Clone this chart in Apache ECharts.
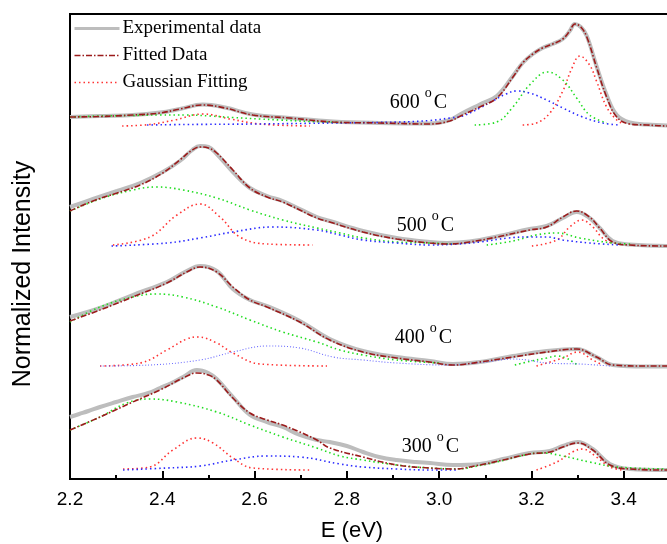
<!DOCTYPE html>
<html><head><meta charset="utf-8">
<script src="https://cdn.jsdelivr.net/npm/echarts@6/dist/echarts.min.js"></script>
<style>html,body{margin:0;padding:0;background:#fff}#c{width:667px;height:544px}</style>
</head><body><div id="c"></div>
<script>
// ---- data: [E (eV), normalized intensity + offset] ----
const fit600 = [[2.20,3.62],[2.265,3.625],[2.336,3.64],[2.395,3.66],[2.438,3.70],[2.488,3.74],[2.536,3.71],[2.596,3.64],[2.676,3.61],[2.77,3.57],[2.871,3.56],[2.98,3.55],[3.023,3.58],[3.051,3.64],[3.088,3.72],[3.125,3.81],[3.16,4.02],[3.181,4.16],[3.203,4.25],[3.224,4.31],[3.246,4.35],[3.268,4.40],[3.283,4.48],[3.294,4.55],[3.307,4.52],[3.32,4.42],[3.341,4.12],[3.363,3.82],[3.385,3.62],[3.413,3.55],[3.45,3.54],[3.50,3.53],[3.60,3.53]];
const exp600 = [[2.20,3.62],[2.265,3.63],[2.336,3.64],[2.395,3.665],[2.438,3.70],[2.488,3.745],[2.536,3.715],[2.596,3.645],[2.676,3.61],[2.77,3.575],[2.871,3.56],[2.98,3.555],[3.023,3.59],[3.051,3.66],[3.088,3.745],[3.125,3.83],[3.16,4.03],[3.181,4.16],[3.203,4.25],[3.224,4.31],[3.246,4.35],[3.268,4.40],[3.283,4.48],[3.294,4.55],[3.307,4.52],[3.32,4.43],[3.341,4.13],[3.363,3.84],[3.385,3.64],[3.413,3.565],[3.45,3.545],[3.50,3.535],[3.60,3.53]];
const green600a = [[2.20,3.62],[2.265,3.63],[2.33,3.635],[2.395,3.64],[2.453,3.64],[2.503,3.63],[2.553,3.615],[2.612,3.60],[2.655,3.59],[2.72,3.575],[2.79,3.565]];
const red600a = [[2.313,3.53],[2.373,3.545],[2.427,3.59],[2.488,3.65],[2.547,3.60],[2.612,3.55],[2.72,3.53]];
const blue600 = [[2.367,3.54],[2.45,3.545],[2.60,3.55],[2.77,3.56],[2.915,3.57],[2.98,3.585],[3.023,3.61],[3.051,3.63],[3.088,3.71],[3.116,3.78],[3.145,3.85],[3.168,3.88],[3.196,3.86],[3.233,3.79],[3.268,3.71],[3.311,3.62],[3.354,3.56],[3.391,3.54]];
const green600b = [[3.077,3.54],[3.125,3.57],[3.16,3.72],[3.196,3.94],[3.235,4.07],[3.268,3.99],[3.298,3.81],[3.326,3.64],[3.363,3.56]];
const red600b = [[3.181,3.54],[3.211,3.56],[3.24,3.66],[3.268,3.88],[3.287,4.10],[3.305,4.23],[3.326,4.14],[3.341,3.98],[3.363,3.72],[3.385,3.59],[3.40,3.55]];

const fit500 = [[2.20,2.68],[2.25,2.78],[2.302,2.86],[2.352,2.94],[2.401,3.06],[2.438,3.19],[2.465,3.29],[2.482,3.32],[2.50,3.31],[2.518,3.26],[2.553,3.09],[2.59,2.91],[2.627,2.82],[2.661,2.77],[2.698,2.69],[2.735,2.61],[2.763,2.57],[2.835,2.47],[2.908,2.40],[2.98,2.36],[3.017,2.35],[3.066,2.37],[3.125,2.42],[3.196,2.49],[3.233,2.52],[3.268,2.62],[3.298,2.68],[3.326,2.62],[3.348,2.51],[3.376,2.37],[3.413,2.34],[3.50,2.33],[3.60,2.33]];
const exp500 = [[2.20,2.72],[2.25,2.80],[2.302,2.88],[2.352,2.96],[2.401,3.07],[2.438,3.18],[2.465,3.29],[2.482,3.33],[2.50,3.32],[2.518,3.25],[2.553,3.07],[2.59,2.91],[2.627,2.83],[2.661,2.78],[2.698,2.70],[2.735,2.62],[2.763,2.58],[2.835,2.48],[2.908,2.41],[2.98,2.37],[3.017,2.36],[3.066,2.375],[3.125,2.425],[3.196,2.50],[3.233,2.53],[3.268,2.61],[3.298,2.67],[3.326,2.61],[3.348,2.51],[3.376,2.38],[3.413,2.345],[3.50,2.33],[3.60,2.33]];
const green500a = [[2.20,2.68],[2.265,2.80],[2.336,2.89],[2.388,2.92],[2.445,2.89],[2.518,2.81],[2.59,2.69],[2.661,2.59],[2.735,2.51],[2.785,2.46],[2.835,2.41],[2.908,2.37],[2.98,2.36],[3.03,2.35]];
const green500b = [[3.103,2.34],[3.16,2.38],[3.21,2.44],[3.255,2.46],[3.305,2.41],[3.376,2.36],[3.42,2.35]];
const red500a = [[2.293,2.34],[2.373,2.42],[2.432,2.64],[2.482,2.75],[2.525,2.62],[2.568,2.42],[2.627,2.35],[2.726,2.34]];
const red500b = [[3.201,2.33],[3.255,2.39],[3.283,2.52],[3.309,2.59],[3.333,2.52],[3.354,2.41],[3.376,2.35]];
const blue500 = [[2.29,2.33],[2.41,2.36],[2.482,2.41],[2.553,2.47],[2.64,2.52],[2.735,2.49],[2.785,2.44],[2.835,2.39],[2.908,2.36],[2.98,2.34],[3.04,2.35],[3.088,2.37],[3.15,2.41],[3.19,2.42],[3.233,2.42],[3.268,2.39],[3.326,2.36],[3.391,2.34]];

const fit400 = [[2.20,1.58],[2.265,1.69],[2.336,1.82],[2.41,1.96],[2.453,2.07],[2.482,2.12],[2.518,2.07],[2.553,1.92],[2.59,1.79],[2.627,1.72],[2.698,1.57],[2.763,1.39],[2.835,1.27],[2.908,1.21],[2.98,1.17],[3.03,1.14],[3.088,1.17],[3.16,1.22],[3.233,1.27],[3.298,1.30],[3.341,1.22],[3.376,1.14],[3.45,1.13],[3.60,1.13]];
const exp400 = [[2.20,1.62],[2.265,1.71],[2.336,1.84],[2.41,1.97],[2.453,2.08],[2.482,2.13],[2.518,2.08],[2.553,1.90],[2.59,1.79],[2.627,1.73],[2.698,1.58],[2.763,1.40],[2.835,1.28],[2.908,1.22],[2.98,1.18],[3.03,1.15],[3.088,1.17],[3.16,1.23],[3.233,1.28],[3.298,1.30],[3.341,1.22],[3.376,1.14],[3.45,1.125],[3.60,1.13]];
const green400a = [[2.20,1.57],[2.265,1.72],[2.336,1.82],[2.388,1.85],[2.445,1.82],[2.518,1.72],[2.59,1.59],[2.661,1.47],[2.735,1.37],[2.785,1.29],[2.835,1.24],[2.908,1.19],[3.0,1.16]];
const green400b = [[3.164,1.14],[3.20,1.18],[3.233,1.21],[3.255,1.23],[3.275,1.21],[3.29,1.17],[3.30,1.14]];
const red400a = [[2.265,1.13],[2.352,1.16],[2.41,1.29],[2.453,1.40],[2.477,1.42],[2.518,1.36],[2.553,1.26],[2.612,1.15],[2.757,1.13]];
const red400b = [[3.211,1.13],[3.268,1.21],[3.30,1.27],[3.333,1.19],[3.354,1.14]];
const blue400 = [[2.265,1.13],[2.373,1.14],[2.482,1.19],[2.553,1.27],[2.627,1.33],[2.698,1.31],[2.77,1.22],[2.835,1.19],[2.908,1.16],[3.017,1.14],[3.10,1.17],[3.16,1.20],[3.19,1.19],[3.233,1.16],[3.305,1.15],[3.37,1.13]];

const fit300 = [[2.20,0.49],[2.265,0.62],[2.336,0.77],[2.395,0.89],[2.445,1.01],[2.475,1.06],[2.50,1.04],[2.518,0.99],[2.553,0.81],[2.59,0.66],[2.627,0.59],[2.661,0.54],[2.698,0.47],[2.735,0.39],[2.763,0.31],[2.835,0.22],[2.908,0.14],[2.98,0.11],[3.03,0.10],[3.088,0.14],[3.138,0.19],[3.196,0.25],[3.24,0.27],[3.268,0.32],[3.30,0.36],[3.333,0.29],[3.37,0.14],[3.413,0.10],[3.50,0.09],[3.60,0.09]];
const exp300 = [[2.20,0.62],[2.22,0.65],[2.24,0.68],[2.265,0.72],[2.30,0.77],[2.336,0.82],[2.37,0.86],[2.395,0.91],[2.42,0.96],[2.445,1.02],[2.475,1.09],[2.50,1.06],[2.518,1.00],[2.553,0.82],[2.59,0.64],[2.627,0.57],[2.661,0.52],[2.698,0.44],[2.735,0.39],[2.763,0.37],[2.80,0.33],[2.835,0.27],[2.87,0.22],[2.908,0.19],[2.95,0.17],[2.98,0.16],[3.03,0.14],[3.088,0.15],[3.138,0.20],[3.196,0.26],[3.24,0.28],[3.268,0.33],[3.30,0.37],[3.333,0.30],[3.37,0.15],[3.413,0.10],[3.50,0.09],[3.60,0.09]];
const green300a = [[2.20,0.49],[2.265,0.62],[2.323,0.76],[2.373,0.80],[2.432,0.77],[2.518,0.67],[2.59,0.54],[2.661,0.42],[2.735,0.31],[2.785,0.23],[2.835,0.19],[2.908,0.14],[2.98,0.11],[3.05,0.10]];
const green300b = [[3.05,0.10],[3.125,0.17],[3.196,0.25],[3.224,0.26],[3.268,0.23],[3.326,0.17],[3.385,0.12],[3.493,0.10]];
const red300a = [[2.315,0.10],[2.373,0.12],[2.423,0.29],[2.475,0.41],[2.51,0.36],[2.553,0.21],[2.596,0.11],[2.72,0.09]];
const red300b = [[3.211,0.09],[3.255,0.17],[3.289,0.27],[3.311,0.30],[3.341,0.22],[3.37,0.12],[3.398,0.09]];
const blue300 = [[2.315,0.09],[2.41,0.11],[2.482,0.13],[2.553,0.19],[2.627,0.23],[2.698,0.22],[2.785,0.15],[2.835,0.12],[2.908,0.10],[2.98,0.09],[3.04,0.09]];

const legendNames = ['Experimental data', 'Fitted Data', 'Gaussian Fitting'];
const tempLabels = ['600', '500', '400', '300'];
const tempLabelE = [2.893, 2.908, 2.904, 2.919];
const tempLabelY = [3.76, 2.53, 1.41, 0.32];

// ---- styles ----
const C_EXP = '#bdbdbd', C_FIT = '#9b1b1b', C_R = '#ff3333', C_G = '#22dd22', C_B = '#2a2aff';
const DASHDOT = [6, 2, 1.5, 2];
const DOT = [1.5, 3];

function line(name, data, color, width, type, z, op) {
  return {
    type: 'line', name: name, data: data, symbol: 'none', showSymbol: false,
    smooth: 0.4, z: z, silent: true, animation: false, clip: true,
    lineStyle: { color: color, width: width, type: type, opacity: op == null ? 1 : op },
    itemStyle: { color: color }
  };
}

const series = [];
[exp600, exp500, exp400, exp300].forEach(d => series.push(line(legendNames[0], d, C_EXP, 4, 'solid', 1)));
[red600a, red600b, red500a, red500b, red400a, red400b, red300a, red300b].forEach(d => series.push(line(legendNames[2], d, C_R, 1.6, DOT, 3)));
[green600a, green600b, green500a, green500b, green400a, green400b, green300a, green300b].forEach(d => series.push(line('Gaussian (green)', d, C_G, 1.6, DOT, 3)));
[blue600, blue500, blue300].forEach(d => series.push(line('Gaussian (blue)', d, C_B, 1.6, DOT, 3)));
series.push(line('Gaussian (blue)', blue400, '#5a5aff', 1.1, [1, 2], 3, 0.9));
[fit600, fit500, fit400, fit300].forEach(d => series.push(line(legendNames[1], d, C_FIT, 1.6, DASHDOT, 4)));

const hidden = { color: 'transparent', opacity: 0, borderWidth: 0 };
const chart = echarts.init(document.getElementById('c'), null, { renderer: 'canvas' });
chart.setOption({
  animation: false,
  backgroundColor: '#ffffff',
  grid: { left: 70, top: 14, right: -49, bottom: 65, outerBoundsMode: 'none', containLabel: false,
    show: true, borderColor: '#000', borderWidth: 2, backgroundColor: 'transparent' },
  xAxis: {
    type: 'value', min: 2.2, max: 3.6, interval: 0.2,
    axisLine: { show: true, onZero: false, lineStyle: { color: '#000', width: 2 } },
    axisTick: { show: true, inside: true, length: 8, lineStyle: { color: '#000', width: 2 } },
    minorTick: { show: true, splitNumber: 2, length: 4, lineStyle: { color: '#000', width: 2 } },
    axisLabel: { color: '#000', fontSize: 19, fontFamily: '"Liberation Sans", Arial, sans-serif', margin: 11,
      formatter: v => v.toFixed(1) },
    splitLine: { show: false }
  },
  yAxis: {
    type: 'value', min: 0, max: 4.65,
    axisLine: { show: true, lineStyle: { color: '#000', width: 2 } },
    axisTick: { show: false }, axisLabel: { show: false }, splitLine: { show: false }
  },
  legend: {
    orient: 'vertical', left: 73, top: 19, padding: 0, itemGap: 8,
    itemWidth: 45, itemHeight: 14,
    textStyle: { color: '#000', fontSize: 19, fontFamily: '"Liberation Serif", "Times New Roman", serif', padding: [0, 0, 0, -2] },
    data: [
      { name: legendNames[0], itemStyle: hidden, lineStyle: { color: C_EXP, width: 3, type: 'solid' } },
      { name: legendNames[1], itemStyle: hidden, lineStyle: { color: C_FIT, width: 1.6, type: DASHDOT } },
      { name: legendNames[2], itemStyle: hidden, lineStyle: { color: C_R, width: 1.6, type: DOT } }
    ],
    selectedMode: false
  },
  series: series
});

// temperature labels and axis titles
const serif = '"Liberation Serif", "Times New Roman", serif';
const graphics = [];
tempLabels.forEach((t, i) => {
  const p = chart.convertToPixel({ gridIndex: 0 }, [tempLabelE[i], tempLabelY[i]]);
  graphics.push({ type: 'group', x: p[0], y: p[1], silent: true, children: [
    { type: 'text', x: 0, y: 0, style: { text: t, font: '20px ' + serif, fill: '#000', align: 'left', verticalAlign: 'middle' } },
    { type: 'text', x: 35, y: -10, style: { text: 'o', font: '14px ' + serif, fill: '#000', align: 'left', verticalAlign: 'middle' } },
    { type: 'text', x: 44, y: 0, style: { text: 'C', font: '20px ' + serif, fill: '#000', align: 'left', verticalAlign: 'middle' } }
  ]});
});
graphics.push({ type: 'text', x: 23, y: 274, rotation: Math.PI / 2, silent: true,
  style: { text: 'Normalized Intensity', font: '25px "Liberation Sans", Arial, sans-serif', fill: '#000', align: 'center', verticalAlign: 'middle' } });
graphics.push({ type: 'text', x: 352, y: 531, silent: true,
  style: { text: 'E (eV)', font: '22px "Liberation Sans", Arial, sans-serif', fill: '#000', align: 'center', verticalAlign: 'middle' } });
chart.setOption({ graphic: graphics });
</script></body></html>
